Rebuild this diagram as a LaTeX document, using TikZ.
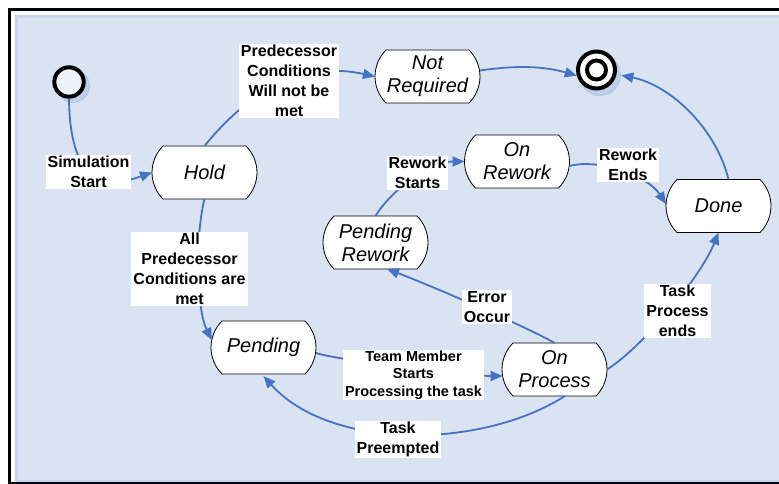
\documentclass[tikz,border=0pt]{standalone}
\usepackage{fontspec}
\setmainfont{Liberation Sans}
\usetikzlibrary{arrows.meta}

\definecolor{panelfill}{RGB}{218,227,242}
\definecolor{panelrim}{RGB}{198,213,237}
\definecolor{flowblue}{RGB}{68,114,196}
\definecolor{shadowblue}{RGB}{180,199,231}
\definecolor{dotfill}{RGB}{236,241,250}

\tikzset{
  statetext/.style={minimum width=105pt, minimum height=53pt, inner sep=0pt,
    outer sep=0pt, align=center, font=\itshape\fontsize{20}{23}\selectfont},
  stateoutline/.style={draw=black, line width=0.8pt, fill=white},
  flow/.style={draw=flowblue, line width=1.8pt,
    -{Triangle[length=12pt,width=10pt]}},
  cond/.style={fill=white, align=center, inner xsep=2pt, inner ysep=1pt,
    font=\bfseries\fontsize{16}{20}\selectfont},
  condsmall/.style={cond, font=\bfseries\fontsize{14.5}{17.7}\selectfont},
  pseudo/.style={circle, draw=black, fill=dotfill, inner sep=0pt},
  pseudoshadow/.style={fill=shadowblue, draw=shadowblue!80!flowblue, line width=0.6pt, opacity=0.7},
}

% state: flat top and bottom, arced left and right sides
\newcommand\statebox[3]{%
  \path[stateoutline] (#2) ++(-41.5,26.5) -- ++(83,0)
     arc[start angle=45,end angle=-45,radius=37.48pt] -- ++(-83,0)
     arc[start angle=225,end angle=135,radius=37.48pt] -- cycle;
  \node[statetext] (#1) at (#2) {#3};}

\begin{document}
\begin{tikzpicture}[x=1pt,y=1pt]
\useasboundingbox (0,0) rectangle (779,-484);

% panel and frame
\fill[white] (0,0) rectangle (779,-484);
\filldraw[fill=panelfill, draw=panelrim, line width=3pt] (16.5,-16.5) rectangle (800,-481);
\draw[black, line width=3.4pt] (9.7,-9.7) rectangle (805,-483.8);

% pseudo states
\fill[pseudoshadow] (73,-86) circle (16.5);
\node[pseudo, line width=4pt, minimum size=29.4pt] (start) at (69,-82) {};
\fill[pseudoshadow] (600,-75) circle (20.5);
\node[pseudo, line width=4pt, minimum size=37pt, fill=white] (fin) at (596.5,-70) {};
\draw[black, line width=4pt] (fin.center) circle (9.5);

% states
\statebox{hold}{204.5,-172.5}{Hold}
\statebox{notreq}{427.5,-76.5}{Not\\Required}
\statebox{onrework}{517,-161.5}{On\\Rework}
\statebox{done}{718.5,-206}{Done}
\statebox{pendrework}{375.5,-242.5}{Pending\\Rework}
\statebox{pending}{263.5,-347.5}{Pending}
\statebox{onprocess}{554.5,-369.5}{On\\Process}

% transitions
\draw[flow] (start.south) .. controls +(1,-93) and +(-40,-14) .. (hold.west);
\draw[flow] (hold.north) .. controls +(42,52) and +(-75,16.5) .. (notreq.west);
\draw[flow] ([yshift=6pt]notreq.east) .. controls +(35,5) and +(-35,10) .. (fin.196);
\draw[flow] ([xshift=10pt]done.north) .. controls +(-12,50) and +(50,-10) .. ([xshift=5pt]fin.-15);
\draw[flow] ([yshift=-4.5pt]onrework.east) .. controls +(30,8) and +(-18,28) .. ([yshift=2pt]done.west);
\draw[flow] (pendrework.north) .. controls +(15,25) and +(-35,0) .. (onrework.west);
\draw[flow] (onprocess.north) .. controls +(-25,15) and +(40,-15) .. ([xshift=11.5pt]pendrework.south);
\draw[flow] (hold.south) .. controls +(-10,-40) and +(-15,30) .. ([xshift=0.8pt,yshift=7.5pt]pending.west);
\draw[flow] ([yshift=-5.5pt]pending.east) .. controls +(25,-8) and +(-30,0) .. ([xshift=0.6pt,yshift=-6.5pt]onprocess.west);
\draw[flow] ([xshift=10.5pt]onprocess.south) .. controls +(-85,-54) and +(66,-74) .. ([yshift=-2pt]pending.south);
\draw[flow] (onprocess.east) .. controls +(35,22) and +(-18,-45) .. (done.south);

% transition conditions
\node[cond] (lsim) at (88.5,-172) {Simulation\\Start};
\node[cond] (lpred) at (289,-81) {Predecessor\\Conditions\\Will not be\\met};
\node[cond] (lall) at (189.5,-269) {All\\Predecessor\\Conditions are\\met};
\node[cond] (lrws) at (417.5,-173) {Rework\\Starts};
\node[cond] (lrwe) at (628,-165) {Rework\\Ends};
\node[cond] (lerr) at (487,-307) {Error\\Occur};
\node[cond] (ltpe) at (677.5,-311) {Task\\Process\\ends};
\node[condsmall] (lteam) at (413.5,-375) {Team Member\\Starts\\Processing the task};
\node[cond] (lpre) at (398,-439.5) {Task\\Preempted};
\end{tikzpicture}
\end{document}
